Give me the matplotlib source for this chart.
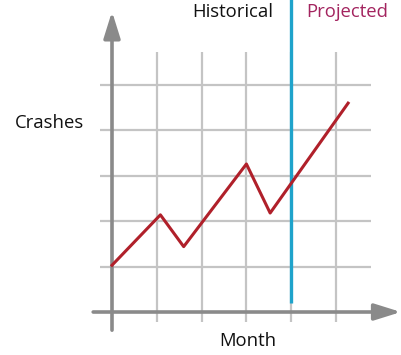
import matplotlib.pyplot as plt

# datos de la curva (unidades de grilla)
meses = [0, 1.08, 1.6, 3.0, 3.53, 5.27]
choques = [1.03, 2.14, 1.44, 3.26, 2.18, 4.6]
grilla_x = [1, 2, 3, 4, 5]
grilla_y = [1, 2, 3, 4, 5]
corte = 4

gris = '#8a8a8a'
fig = plt.figure(figsize=(4.02, 3.55), dpi=100)
ax = fig.add_axes([0, 0, 1, 1])
ax.set_xlim(-2.5, 6.473)
ax.set_ylim(-0.947, 6.872)
ax.axis('off')

# grilla
ax.vlines(grilla_x, -0.22, 5.72, color='#c4c4c4', lw=1.6, zorder=1)
ax.hlines(grilla_y, -0.27, 5.78, color='#c4c4c4', lw=1.6, zorder=1)

# ejes con flechas
ax.annotate('', xy=(0, 6.62), xytext=(0, -0.4),
            arrowprops=dict(arrowstyle='-|>,head_length=1.6,head_width=0.5',
                            color=gris, lw=2.6, shrinkA=0, shrinkB=0), zorder=3)
ax.annotate('', xy=(6.45, 0), xytext=(-0.42, 0),
            arrowprops=dict(arrowstyle='-|>,head_length=1.6,head_width=0.5',
                            color=gris, lw=2.6, shrinkA=0, shrinkB=0), zorder=3)

# linea de corte
ax.vlines(corte, 0.2, 6.9, color='#1fa3cb', lw=2.4, zorder=4)

# curva
ax.plot(meses, choques, color='#b0202a', lw=2.2, zorder=5)

fuente = 'Open Sans'
tam = 13.3
ax.text(3.59, 6.6, 'Historical', ha='right', va='center', fontsize=tam,
        family=fuente, color='#111111')
ax.text(4.33, 6.6, 'Projected', ha='left', va='center', fontsize=tam,
        family=fuente, color='#a3245f')
ax.text(-2.17, 4.17, 'Crashes', ha='left', va='center', fontsize=tam,
        family=fuente, color='#111111')
ax.text(3.04, -0.63, 'Month', ha='center', va='center', fontsize=tam,
        family=fuente, color='#111111')

plt.savefig('out.png', dpi=100)
